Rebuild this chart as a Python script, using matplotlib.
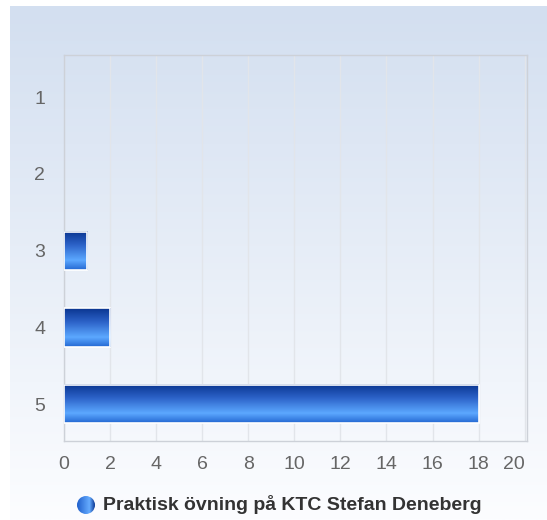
import matplotlib.pyplot as plt
import numpy as np
from matplotlib.colors import LinearSegmentedColormap
from matplotlib.patches import Circle, Rectangle

categories = ["1", "2", "3", "4", "5"]
values = [0, 0, 1, 2, 18]
x_ticks = [0, 2, 4, 6, 8, 10, 12, 14, 16, 18, 20]
series_name = "Praktisk övning på KTC Stefan Deneberg"

W, H = 547, 520
plt.rcParams['font.family'] = ['Liberation Sans', 'DejaVu Sans']

fig = plt.figure(figsize=(W / 100, H / 100), dpi=100)
fig.patch.set_facecolor('white')

# background gradient panel
bg = fig.add_axes([10 / W, 0, 1 - 10 / W, 514 / H], zorder=0)
bg_cmap = LinearSegmentedColormap.from_list('bg', ['#d3dff0', '#fcfdff'])
bg.imshow(np.linspace(0, 1, 256).reshape(-1, 1), cmap=bg_cmap, aspect='auto',
          extent=[0, 1, 0, 1], origin='upper')
bg.set_axis_off()

ax = fig.add_axes([64 / W, (H - 441) / H, (527 - 64) / W, (441 - 55) / H], zorder=1)
ax.set_facecolor('none')

bar_cmap = LinearSegmentedColormap.from_list(
    'bar', [(0, '#0a3590'), (0.35, '#2c62c8'), (0.75, '#5ca8ff'), (1.0, '#2468d2')])
grad = np.linspace(0, 1, 128).reshape(-1, 1)

y = np.arange(len(categories))
h = 0.5
for yi, v in zip(y, values):
    if v <= 0:
        continue
    ax.imshow(grad, cmap=bar_cmap, aspect='auto', origin='upper',
              extent=[0, v, yi + h / 2, yi - h / 2], zorder=3)
    ax.add_patch(Rectangle((0, yi - h / 2), v, h, facecolor='none',
                           edgecolor='white', linewidth=1.2, zorder=4))

ax.set_xlim(0, 20.1)
ax.set_ylim(4.48, -0.55)
ax.set_xticks(x_ticks)
ax.set_yticks(y)
ax.set_yticklabels(categories)
ax.tick_params(length=0, labelsize=14, labelcolor='#666666')
ax.tick_params(axis='y', pad=13.5)
ax.tick_params(axis='x', pad=11)
ax.get_xticklabels()[-1].set_ha('right')
ax.xaxis.grid(True, color='#e2e5ea', linewidth=1, zorder=0)
ax.set_axisbelow(True)
for s in ax.spines.values():
    s.set_color('#cdd1d8')
    s.set_linewidth(1)

# legend icon
icon = fig.add_axes([77 / W, (H - 514) / H, 18 / W, 18 / H], zorder=2)
icon_cmap = LinearSegmentedColormap.from_list(
    'icon', [(0, '#2060cc'), (0.7, '#66acff'), (1.0, '#0d3a95')])
im = icon.imshow(np.linspace(0, 1, 64).reshape(1, -1), cmap=icon_cmap,
                 aspect='auto', extent=[0, 1, 0, 1])
circ = Circle((0.5, 0.5), 0.5, transform=icon.transData)
im.set_clip_path(circ)
icon.set_xlim(0, 1)
icon.set_ylim(0, 1)
icon.set_axis_off()

fig.text(103 / W, (H - 505) / H, series_name, fontsize=14, fontweight='bold',
         color='#333333', va='center', ha='left')

fig.savefig('out.png', dpi=100)
